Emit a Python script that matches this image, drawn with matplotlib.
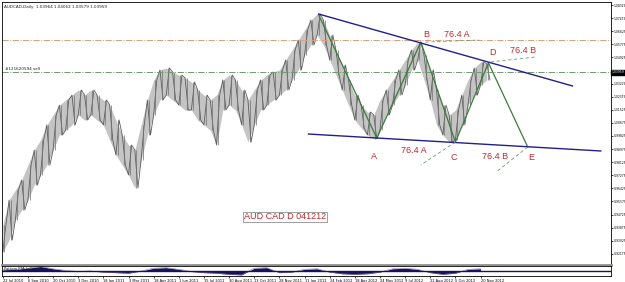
import matplotlib.pyplot as plt

# Price data: highs / lows, one sample per 8 daily bars
step = 8
highs = [0.9405, 0.9567, 0.9632, 0.9697, 0.9794, 0.9891, 0.9956, 1.0054, 1.0119, 1.0183,
         1.0216, 1.0248, 1.0281, 1.0248, 1.0281, 1.0248, 1.0216, 1.0183, 1.0086, 0.9989,
         0.9924, 0.9891, 1.0054, 1.0216, 1.0346, 1.0411, 1.0424, 1.0398, 1.0378, 1.0359,
         1.0333, 1.0281, 1.0248, 1.0216, 1.0248, 1.0346, 1.0378, 1.0346, 1.0281, 1.0216,
         1.0281, 1.0346, 1.0378, 1.0398, 1.0411, 1.0476, 1.0540, 1.0605, 1.0670, 1.0735,
         1.0774, 1.0735, 1.0638, 1.0540, 1.0443, 1.0346, 1.0248, 1.0183, 1.0138, 1.0119,
         1.0216, 1.0281, 1.0346, 1.0411, 1.0476, 1.0540, 1.0592, 1.0508, 1.0411, 1.0281,
         1.0183, 1.0119, 1.0151, 1.0248, 1.0346, 1.0424, 1.0463, 1.0450]
lows = [0.9229, 0.9307, 0.9437, 0.9502, 0.9567, 0.9664, 0.9729, 0.9794, 0.9891, 0.9989,
        1.0021, 1.0054, 1.0119, 1.0086, 1.0119, 1.0086, 1.0054, 0.9956, 0.9859, 0.9794,
        0.9729, 0.9645, 0.9826, 0.9989, 1.0119, 1.0216, 1.0248, 1.0216, 1.0183, 1.0151,
        1.0151, 1.0086, 1.0054, 1.0021, 0.9924, 1.0151, 1.0183, 1.0151, 1.0054, 0.9943,
        1.0054, 1.0151, 1.0183, 1.0216, 1.0248, 1.0281, 1.0346, 1.0411, 1.0508, 1.0573,
        1.0638, 1.0573, 1.0476, 1.0378, 1.0281, 1.0183, 1.0086, 1.0034, 0.9989, 0.9963,
        1.0021, 1.0119, 1.0183, 1.0248, 1.0313, 1.0411, 1.0476, 1.0346, 1.0216, 1.0054,
        0.9989, 0.9943, 0.9956, 1.0054, 1.0183, 1.0248, 1.0313, 1.0346]

# Oscillator in the lower pane, one sample per 16 bars
osc = [0.2, 0.3, 0.5, 0.8, 0.4, 0.1, -0.1, 0.0, -0.2, -0.3, -0.4, 0.0, 0.5, 0.6, 0.3,
       -0.1, -0.3, -0.4, -0.6, -0.7, 0.5, 0.6, -0.3, -0.2, 0.3, 0.4, -0.2, -0.5, -0.6,
       -0.5, -0.2, 0.4, 0.5, 0.3, -0.3, -0.6, -0.4, 0.3, 0.4]

# Harmonic pattern points (bar index, price)
pattern_bars = [402, 476, 532, 576, 618, 668]
pattern_prices = [1.0768, 0.9969, 1.0592, 0.9943, 1.0457, 0.9911]
upper_trend = ([402, 725], [1.0774, 1.0307])
lower_trend = ([389, 761], [0.9995, 0.9885])
fib_lines = [([538, 606], [1.0592, 1.0605]), ([621, 678], [1.0463, 1.0495]),
             ([576, 532], [0.9943, 0.9794]), ([668, 628], [0.9911, 0.9749])]
labels = [("A", 473, 0.9846), ("76.4 A", 523, 0.9885), ("C", 574, 0.9840),
          ("76.4 B", 626, 0.9846), ("E", 672, 0.9840), ("B", 539, 1.0638),
          ("76.4 A", 578, 1.0638), ("D", 623, 1.0521), ("76.4 B", 662, 1.0534)]

order_level = 1.0605
sell_level = 1.03959
last_close = 1.03959

date_labels = ["22 Jul 2010", "6 Sep 2010", "20 Oct 2010", "3 Dec 2010", "18 Jan 2011",
               "3 Mar 2011", "18 Apr 2011", "1 Jun 2011", "15 Jul 2011", "30 Aug 2011",
               "13 Oct 2011", "28 Nov 2011", "11 Jan 2012", "24 Feb 2012", "18 Apr 2012",
               "24 May 2012", "9 Jul 2012", "22 Aug 2012", "5 Oct 2012", "20 Nov 2012"]
# right-axis levels (the one under the last-price box is hidden)
price_ticks = [1.08325 - 0.0085 * k for k in range(20) if k != 5]

fig = plt.figure(figsize=(6.25, 2.82), dpi=100)
ax = fig.add_axes([2 / 625, 1 - 265 / 282, 609 / 625, 263 / 282])
ax2 = fig.add_axes([2 / 625, 1 - 276 / 282, 609 / 625, 10 / 282])

# price bars: light high/low range, jagged high/low line and bar strokes
bx = [i * step for i in range(len(highs))]
ax.fill_between(bx, lows, highs, color='#c4c4c4', lw=0)
xs, ys = [], []
for i, (h, l) in enumerate(zip(highs, lows)):
    if i % 2 == 0:
        xs += [i * step, i * step + step / 2]
        ys += [l, h]
    else:
        xs += [i * step, i * step + step / 2]
        ys += [h, l]
ax.plot(xs, ys, color='#5c5c5c', lw=0.6)
ax.vlines([i * step + 2 for i in range(len(highs))], lows, highs, color='#707070', lw=0.5)

# horizontal levels
ax.axhline(order_level, color='#d9a07a', lw=0.7, ls='-.')
ax.axhline(sell_level, color='#6f9a6f', lw=0.7, ls='-.')

# pattern
ax.plot(pattern_bars, pattern_prices, color='#3d7a3d', lw=0.9)
ax.plot(*upper_trend, color='#1f1f8f', lw=1.0)
ax.plot(*lower_trend, color='#1f1f8f', lw=1.0)
for fx, fy in fib_lines:
    ax.plot(fx, fy, color='#6f9a6f', lw=0.6, ls=(0, (4, 3)))
for txt, tx, ty in labels:
    ax.text(tx, ty, txt, color='#c0282d', fontsize=6.5, ha='center', va='center',
            family='Liberation Sans')

ax.text(359, 0.9457, "AUD CAD D 041212", color='#c0282d', fontsize=6.5, ha='center',
        va='center', family='Liberation Sans',
        bbox=dict(facecolor='white', edgecolor='#909090', lw=0.6, pad=0.6))
ax.text(0.004, 0.99, "AUDCAD,Daily  1.03964 1.04062 1.03579 1.03959", transform=ax.transAxes,
        fontsize=3.0, va='top', color='#202020')
ax.text(3, sell_level + 0.0012, "#121620594 sell", fontsize=3.0, color='#202020')

ax.set_xlim(-1, 774)
ax.set_ylim(0.9145, 1.0852)
ax.yaxis.tick_right()
ax.set_yticks(price_ticks)
ax.set_yticklabels(["%.5f" % t for t in price_ticks], fontsize=2.2)
ax.tick_params(axis='y', length=1.2, width=0.5, pad=0.5)
ax.set_xticks([])
ax.text(1.001, (last_close - 0.9145) / (1.0852 - 0.9145), "%.5f" % last_close,
        transform=ax.transAxes, fontsize=2.2, color='white', va='center',
        bbox=dict(facecolor='black', edgecolor='black', pad=0.3))
for s in ax.spines.values():
    s.set_linewidth(0.6)
ax.spines['bottom'].set_color('#909090')
ax.spines['bottom'].set_linewidth(2)

# lower pane oscillator
ox = [i * 16 for i in range(len(osc))]
ax2.fill_between(ox, 0, osc, color='#14145a', lw=0)
ax2.plot(ox, osc, color='#9a6aa0', lw=0.4)
ax2.axhline(0, color='#14145a', lw=1.0)
ax2.set_xlim(-1, 774)
ax2.set_ylim(-0.9, 0.9)
ax2.set_yticks([])
ax2.set_xticks([32 * k for k in range(len(date_labels))])
ax2.set_xticklabels(date_labels, fontsize=2.6, ha='left')
ax2.tick_params(axis='x', length=1.5, width=0.5, pad=0.8)
ax2.text(0.004, 0.95, "Pattern FTA Indicator", transform=ax2.transAxes, fontsize=2.6,
         va='top', color='#202020')
for s in ax2.spines.values():
    s.set_linewidth(0.6)

fig.savefig("out.png", dpi=100)
